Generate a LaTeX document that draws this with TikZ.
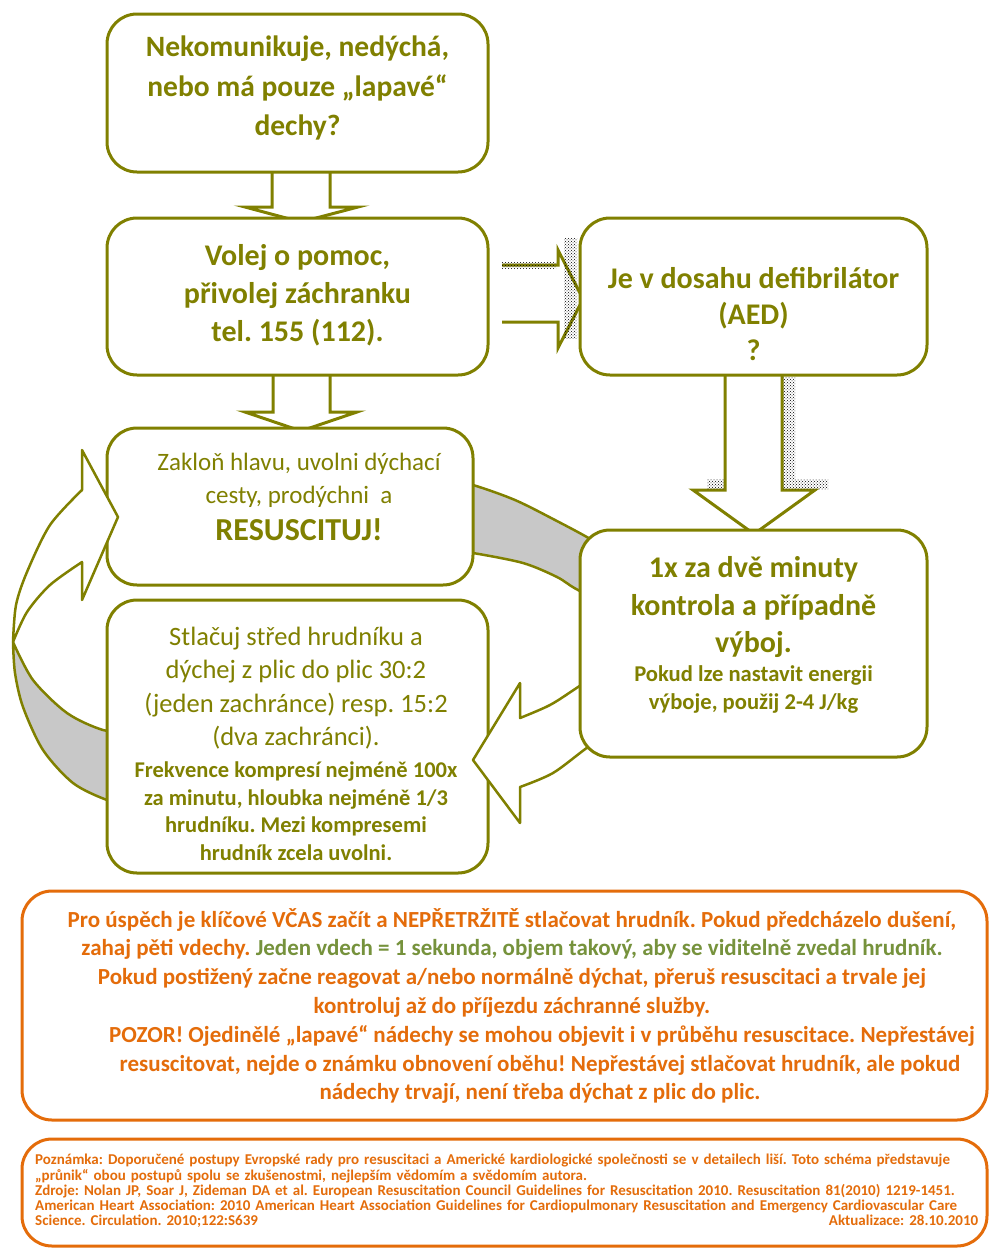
\documentclass[tikz,border=0pt]{standalone}
\usepackage{fontspec}
\setmainfont{Carlito}
\usetikzlibrary{patterns}
\definecolor{boxolive}{HTML}{808000}
\definecolor{ringgray}{HTML}{C8C8C8}
\definecolor{tiporange}{HTML}{E46C0A}
\definecolor{tipgreen}{HTML}{76923C}
\newcommand{\qfont}{\fontsize{29.5}{39.5}\selectfont\bfseries}
\newcommand{\callfont}{\fontsize{30}{38}\selectfont\bfseries}
\newcommand{\aedfont}{\fontsize{30}{36}\selectfont\bfseries}
\newcommand{\airfont}{\fontsize{25}{33}\selectfont}
\newcommand{\shoutfont}{\fontsize{32}{38}\selectfont\bfseries}
\newcommand{\cprfont}{\fontsize{26.5}{33.5}\selectfont}
\newcommand{\ratefont}{\fontsize{22.5}{27.5}\selectfont\bfseries}
\newcommand{\shockfont}{\fontsize{30}{37.5}\selectfont\bfseries}
\newcommand{\energyfont}{\fontsize{22.6}{28}\selectfont\bfseries}
\newcommand{\tipfont}{\fontsize{23}{28.8}\selectfont\bfseries}
\newcommand{\notefont}{\fontsize{15}{15.2}\selectfont\bfseries}

\begin{document}
\frenchspacing
\begin{tikzpicture}[x=1pt,y=-1pt,
    box/.style={draw=boxolive,line width=3pt,rounded corners=30pt,fill=white,inner sep=0pt},
    txt/.style={text=boxolive,align=center,inner sep=0pt},
    ring/.style={draw=boxolive,line width=2.5pt,line join=round},
    blockarrow/.style={draw=boxolive,line width=3pt,fill=white},
    hatch/.style={pattern=crosshatch dots,pattern color=black},
    orangebox/.style={draw=tiporange,line width=3pt,rounded corners=30pt,fill=white,inner sep=0pt}]
  \useasboundingbox (0,0) rectangle (993,1251);
  \draw[ring,fill=ringgray]
    plot[smooth] coordinates {(440,478) (473,485) (515,500) (555,520) (592,540) (625,562)}
    -- (625,612)
    -- plot[smooth] coordinates {(625,612) (578,590) (557,577) (523,563) (473,553) (440,549)}
    -- cycle;
  \draw[ring,fill=ringgray]
    plot[smooth] coordinates {(13,642) (15,673) (23,707) (43,750) (73,783) (107,800) (135,806)}
    -- (135,733)
    -- plot[smooth] coordinates {(135,733) (103,730) (67,713) (33,680) (13,642)}
    -- cycle;
  \draw[blockarrow] (272,160) -- (272,207) -- (245,207) -- (301,222) -- (358,207) -- (330,207) -- (330,160) -- cycle;
  \draw[blockarrow] (273,365) -- (273,412) -- (245,412) -- (301,431) -- (357,412) -- (330,412) -- (330,365) -- cycle;
  \draw[blockarrow] (725,365) -- (725,490) -- (693,490) -- (754,534) -- (815,490) -- (782,490) -- (782,365) -- cycle;
  \draw[blockarrow] (502,265) -- (558,265) -- (558,250) -- (583,299) -- (558,348) -- (558,322) -- (502,322);
  \draw
    (297.5,93) node[box,minimum width=381pt,minimum height=158pt] (qbox) {}
    (297.5,296.5) node[box,minimum width=381pt,minimum height=157pt] (callbox) {}
    (753.5,296.5) node[box,minimum width=347pt,minimum height=157pt] (aedbox) {}
    (290,506.5) node[box,minimum width=366pt,minimum height=157pt] (airbox) {}
    (297.5,736.5) node[box,minimum width=381pt,minimum height=273pt] (cprbox) {};
  \draw[ring,fill=white]
    plot[smooth] coordinates {(13,642) (16,605) (27,572) (50,525) (82,490)}
    -- (82,450) -- (118,517) -- (82,600) -- (82,562)
    -- plot[smooth] coordinates {(82,562) (50,585) (27,612) (13,642)}
    -- cycle;
  \draw[ring,fill=white]
    plot[smooth] coordinates {(625,722) (588,747) (553,773) (520,787)}
    -- (520,823) -- (473,760) -- (520,683) -- (520,718)
    -- plot[smooth] coordinates {(520,718) (550,705) (578,687) (625,655)}
    -- cycle;
  \draw (753.5,643.5) node[box,minimum width=347pt,minimum height=227pt] (shockbox) {};
  \fill[hatch] (502,262) rectangle (556,268);
  \fill[hatch] (564,238) rectangle (577,338);
  \fill[hatch] (783,377) rectangle (795,489);
  \fill[hatch] (707,479) rectangle (724,489);
  \fill[hatch] (795,479) rectangle (828,489);
  \node[txt,font=\qfont] (qtxt) at (297.5,88) {Nekomunikuje, nedýchá,\\nebo má pouze „lapavé“\\dechy?};
  \node[txt,font=\callfont] (calltxt) at (297.5,295) {Volej o pomoc,\\přivolej záchranku\\tel. 155 (112).};
  \node[txt,font=\aedfont] (aedtxt) at (753.5,314) {Je v dosahu defibrilátor\\(AED)\\?};
  \node[txt,font=\airfont] (airtxt) at (299,497) {Zakloň hlavu, uvolni dýchací\\cesty, prodýchni\ \ a\\[4pt]{\shoutfont RESUSCITUJ!}};
  \node[txt,font=\cprfont] (cprtxt) at (296,688) {Stlačuj střed hrudníku a\\dýchej z plic do plic 30:2\\(jeden zachránce) resp. 15:2\\(dva zachránci).};
  \node[txt,font=\ratefont] (ratetxt) at (296,811) {Frekvence kompresí nejméně 100x\\za minutu, hloubka nejméně 1/3\\hrudníku. Mezi kompresemi\\hrudník zcela uvolni.};
  \node[txt,font=\shockfont] (shocktxt) at (753.5,607) {1x za dvě minuty\\kontrola a případně\\výboj.};
  \node[txt,font=\energyfont] (energytxt) at (753.5,689) {Pokud lze nastavit energii\\výboje, použij 2-4 J/kg};
  \draw
    (504.5,1005.5) node[orangebox,minimum width=965pt,minimum height=229pt] (tipbox) {}
    (504.5,1192.5) node[orangebox,minimum width=965pt,minimum height=107pt] (notebox) {};
  \node[txt,text=tiporange,font=\tipfont] (tiptxt) at (512,1006) {Pro úspěch je klíčové VČAS začít a NEPŘETRŽITĚ stlačovat hrudník. Pokud předcházelo dušení,\\zahaj pěti vdechy. {\color{tipgreen}Jeden vdech = 1 sekunda, objem takový, aby se viditelně zvedal hrudník.}\\Pokud postižený začne reagovat a/nebo normálně dýchat, přeruš resuscitaci a trvale jej\\kontroluj až do příjezdu záchranné služby.\\\hspace*{60pt}POZOR! Ojedinělé „lapavé“ nádechy se mohou objevit i v průběhu resuscitace. Nepřestávej\\\hspace*{56pt}resuscitovat, nejde o známku obnovení oběhu! Nepřestávej stlačovat hrudník, ale pokud\\\hspace*{56pt}nádechy trvají, není třeba dýchat z plic do plic.};
  \node[txt,text=tiporange,font=\notefont,align=left,text width=955pt,anchor=west] (notetxt) at (35,1191) {Poznámka: Doporučené postupy Evropské rady pro resuscitaci a Americké kardiologické společnosti se v detailech liší. Toto schéma představuje\\„průnik“ obou postupů spolu se zkušenostmi, nejlepším vědomím a svědomím autora.\\Zdroje: Nolan JP, Soar J, Zideman DA et al. European Resuscitation Council Guidelines for Resuscitation 2010. Resuscitation 81(2010) 1219-1451.\\American Heart Association: 2010 American Heart Association Guidelines for Cardiopulmonary Resuscitation and Emergency Cardiovascular Care\\Science. Circulation. 2010;122:S639\hskip0pt plus1fill Aktualizace: 28.10.2010\hspace*{12pt}};
\end{tikzpicture}
\end{document}
